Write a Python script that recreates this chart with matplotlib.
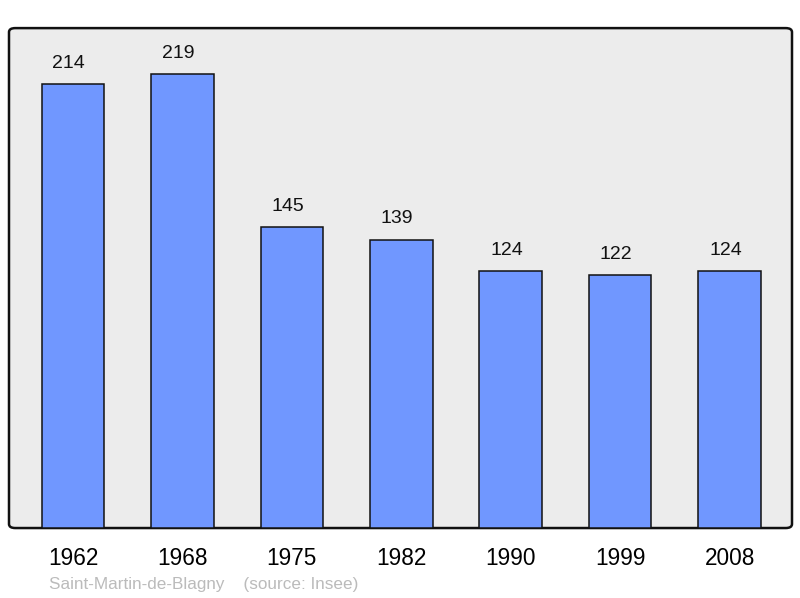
import matplotlib.pyplot as plt
from matplotlib.patches import FancyBboxPatch

years = ['1962', '1968', '1975', '1982', '1990', '1999', '2008']
population = [214, 219, 145, 139, 124, 122, 124]
commune = 'Saint-Martin-de-Blagny'
source = '(source: Insee)'

plt.rcParams['font.family'] = ['Liberation Sans', 'DejaVu Sans']

fig = plt.figure(figsize=(8, 5.98), dpi=100)
ax = fig.add_axes([0.01125, 0.117, 0.97875, 0.836])
ax.set_facecolor('none')

# rounded grey frame behind the bars
frame = FancyBboxPatch((0, 0), 1, 1, boxstyle='round,pad=0,rounding_size=0.008',
                       transform=ax.transAxes, facecolor='#ececec', edgecolor='#111111',
                       linewidth=1.8, zorder=0, clip_on=False)
ax.add_patch(frame)

x = list(range(len(years)))
ax.bar(x, population, width=0.572, color='#7097ff', edgecolor='#111111',
       linewidth=1.1, zorder=2)

for xi, v in zip(x, population):
    ax.annotate(str(v), (xi, v), xytext=(-3, 8.8), textcoords='offset points',
                ha='center', va='bottom', fontsize=14, color='#111111')

ax.set_xlim(-0.585, 6.57)
ax.set_ylim(0, 241)
ax.set_xticks(x)
ax.set_xticklabels(years, fontsize=16.3)
ax.tick_params(axis='x', length=0, pad=14)
ax.set_yticks([])
for s in ax.spines.values():
    s.set_visible(False)

fig.text(49 / 800, 1 - 584 / 598, commune + '    ' + source, fontsize=12.3,
         color='#bbbbbb', va='center', ha='left')

fig.savefig('out.png', dpi=100)
